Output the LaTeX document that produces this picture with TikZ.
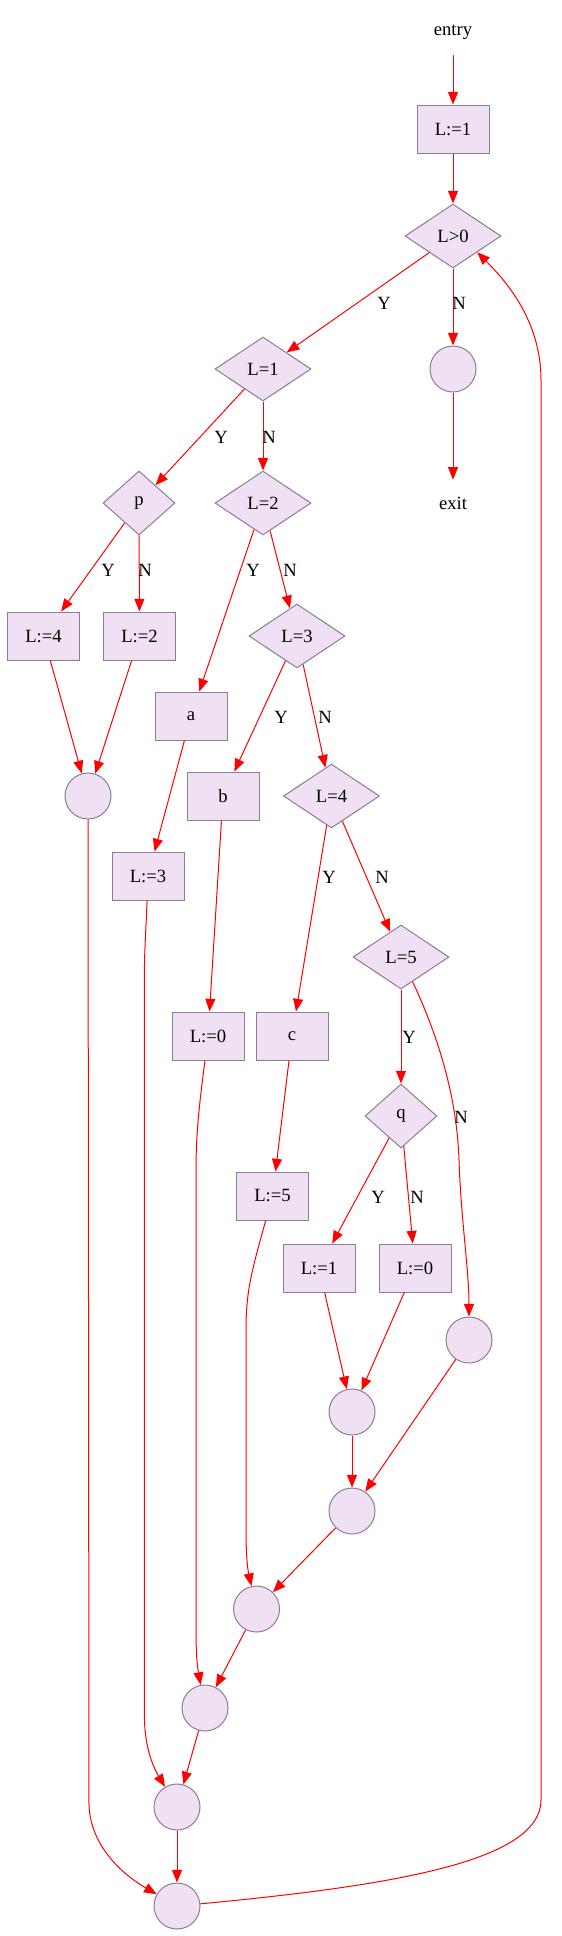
\documentclass[tikz,border=0pt]{standalone}
\usepackage{fontspec}
\setmainfont{Liberation Serif}
\usetikzlibrary{shapes.geometric,arrows.meta}
\definecolor{nodefill}{RGB}{239,225,243}
\definecolor{nodeline}{RGB}{140,124,150}
\tikzset{
  nodebase/.style={draw=nodeline, fill=nodefill, line width=0.75pt, inner sep=0pt},
  stmtbox/.style={nodebase, rectangle, minimum width=54pt, minimum height=36pt},
  testbox/.style={nodebase, diamond, minimum width=72pt, minimum height=48pt, aspect=1.5},
  smalltestbox/.style={nodebase, diamond, minimum width=54pt, minimum height=48pt},
  mergept/.style={nodebase, circle, minimum size=34.5pt},
  termtext/.style={inner sep=0pt, minimum height=34.5pt},
  redge/.style={draw=red, line width=0.75pt, -{Triangle[length=9.5pt,width=7.5pt]}},
  lbl/.style={inner sep=0pt}
}
\begin{document}
\begin{tikzpicture}[x=0.75pt, y=-0.75pt, font=\fontsize{14pt}{16pt}\selectfont]
\useasboundingbox (0,0) rectangle (561,1936);
% nodes
\node[termtext] (entry) at (453,32) {entry};
\node[stmtbox] (s1) at (453,129) {L:=1};
\node[testbox] (d0) at (453,236) {L>0};
\node[mergept] (c0) at (453,369) {};
\node[termtext] (exit) at (453,503) {exit};
\node[testbox] (d1) at (263,369) {L=1};
\node[smalltestbox] (dp) at (139,503) {p};
\node[testbox] (d2) at (263,503) {L=2};
\node[stmtbox] (s4) at (43.5,636) {L:=4};
\node[stmtbox] (s2) at (139.5,636) {L:=2};
\node[testbox] (d3) at (297,636) {L=3};
\node[stmtbox] (sa) at (191,716) {a};
\node[mergept] (cA) at (88,796) {};
\node[stmtbox] (sb) at (223,796) {b};
\node[testbox] (d4) at (331.5,796) {L=4};
\node[stmtbox] (s3) at (148,876) {L:=3};
\node[testbox] (d5) at (401,957) {L=5};
\node[stmtbox] (s0) at (208,1036) {L:=0};
\node[stmtbox] (sc) at (292,1036) {c};
\node[smalltestbox] (dq) at (401,1116) {q};
\node[stmtbox] (s5) at (272.5,1196) {L:=5};
\node[stmtbox] (s1b) at (319,1268) {L:=1};
\node[stmtbox] (s0b) at (415,1268) {L:=0};
\node[mergept] (cR) at (469,1340) {};
\node[mergept] (cM) at (352,1412) {};
\node[mergept] (cM2) at (352,1511) {};
\node[mergept] (c3) at (256.5,1609) {};
\node[mergept] (c4) at (205,1708) {};
\node[mergept] (c5) at (177,1807) {};
\node[mergept] (c6) at (177,1906) {};
% edges
\draw[redge] (entry) -- (s1);
\draw[redge] (s1) -- (d0);
\draw[redge] (d0) -- (d1) node[lbl] at (384,303) {Y};
\draw[redge] (d0) -- (c0) node[lbl] at (459,303) {N};
\draw[redge] (c0) -- (exit);
\draw[redge] (d1) -- (dp) node[lbl] at (221,437) {Y};
\draw[redge] (d1) -- (d2) node[lbl] at (269,437) {N};
\draw[redge] (dp) -- (s4) node[lbl] at (108,570) {Y};
\draw[redge] (dp) -- (s2) node[lbl] at (145,570) {N};
\draw[redge] (s4) -- (cA);
\draw[redge] (s2) -- (cA);
\draw[redge] (d2) -- (sa) node[lbl] at (253,570) {Y};
\draw[redge] (d2) -- (d3) node[lbl] at (290,570) {N};
\draw[redge] (sa) -- (s3);
\draw[redge] (d3) -- (sb) node[lbl] at (281,717) {Y};
\draw[redge] (d3) -- (d4) node[lbl] at (325,717) {N};
\draw[redge] (sb) -- (s0);
\draw[redge] (d4) -- (sc) node[lbl] at (329,877) {Y};
\draw[redge] (d4) -- (d5) node[lbl] at (382,877) {N};
\draw[redge] (sc) -- (s5);
\draw[redge] (d5) -- (dq) node[lbl] at (409,1037) {Y};
\draw[redge] (d5) .. controls (440,1040) and (457,1100) .. (459,1160)
  .. controls (461,1220) and (469,1270) .. (cR) node[lbl] at (461,1117) {N};
\draw[redge] (dq) -- (s1b) node[lbl] at (378,1197) {Y};
\draw[redge] (dq) -- (s0b) node[lbl] at (417,1197) {N};
\draw[redge] (s1b) -- (cM);
\draw[redge] (s0b) -- (cM);
\draw[redge] (cM) -- (cM2);
\draw[redge] (cR) -- (cM2);
\draw[redge] (s5) .. controls (252,1270) and (246,1290) .. (246,1330) -- (246,1530)
  .. controls (246,1565) and (249,1575) .. (c3);
\draw[redge] (cM2) -- (c3);
\draw[redge] (s0) .. controls (200,1100) and (196,1130) .. (196,1170) -- (196,1630)
  .. controls (196,1660) and (198,1670) .. (c4);
\draw[redge] (c3) -- (c4);
\draw[redge] (s3) .. controls (146,930) and (144.4,950) .. (144.4,975) -- (144.4,1715)
  .. controls (144.4,1745) and (152,1765) .. (c5);
\draw[redge] (c4) -- (c5);
\draw[redge] (cA) -- (89,1805) .. controls (90,1840) and (115,1870) .. (c6);
\draw[redge] (c5) -- (c6);
\draw[redge] (c6) .. controls (400,1885) and (541,1860) .. (541,1800) -- (541,380)
  .. controls (541,320) and (505,280) .. (d0.south east);
\end{tikzpicture}
\end{document}
